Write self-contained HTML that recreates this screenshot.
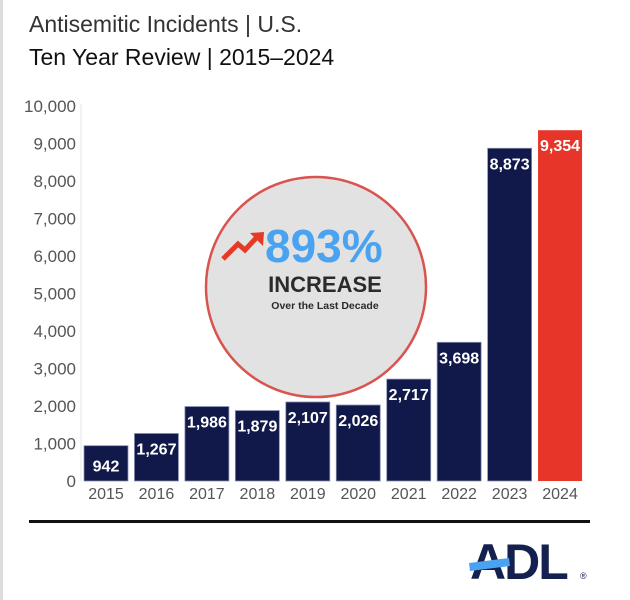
<!DOCTYPE html>
<html><head><meta charset="utf-8"><style>
body{margin:0;width:630px;height:600px;background:#fff;overflow:hidden;position:relative;font-family:"Liberation Sans",sans-serif}
</style></head><body>
<div style="position:absolute;left:0;top:0;width:3px;height:600px;background:#ddd"></div>
<div style="position:absolute;left:29px;top:11px;font-size:23px;color:#333;font-weight:300">Antisemitic Incidents | U.S.</div>
<div style="position:absolute;left:29px;top:44px;font-size:23px;color:#111">Ten Year Review | 2015–2024</div>
<svg id="chart" width="630" height="600" style="position:absolute;left:0;top:0"></svg>
<script>
const years=["2015","2016","2017","2018","2019","2020","2021","2022","2023","2024"];
const incidents=[942,1267,1986,1879,2107,2026,2717,3698,8873,9354];
const labels=["942","1,267","1,986","1,879","2,107","2,026","2,717","3,698","8,873","9,354"];
const ticks=[0,1000,2000,3000,4000,5000,6000,7000,8000,9000,10000];
const tickLabels=["0","1,000","2,000","3,000","4,000","5,000","6,000","7,000","8,000","9,000","10,000"];
const NS="http://www.w3.org/2000/svg",svg=document.getElementById('chart');
const y=v=>481-v*0.0375, x=i=>84+i*50.45, bw=44;
function mk(t,a,p){const e=document.createElementNS(NS,t);for(const k in a)e.setAttribute(k,a[k]);(p||svg).appendChild(e);return e;}
let ax=mk('line',{x1:81,x2:81,y1:104,y2:481,stroke:'#e6e6e6','stroke-width':1});


ticks.forEach((t,i)=>{const e=mk('text',{x:76,y:y(t)+6,'text-anchor':'end','font-size':17,fill:'#555'});e.textContent=tickLabels[i];

});
let c=mk('circle',{cx:316,cy:287,r:110,fill:'#e2e2e2',stroke:'#d9534f','stroke-width':2.5});


let ar=mk('path',{d:'M223 259 L238 244 L245 250 L258 236',stroke:'#e53a25','stroke-width':5,fill:'none'});


let ah=mk('path',{d:'M250 233 L264 232 L263 246 Z',fill:'#e53a25'});


let p=mk('text',{x:265,y:262,'font-size':46,'font-weight':'bold',fill:'#4aa3f0'});p.textContent='893%';


let inc=mk('text',{x:325,y:292,'text-anchor':'middle','font-size':22,'font-weight':'bold',fill:'#2b2b2b'});inc.textContent='INCREASE';


let od=mk('text',{x:325,y:309,'text-anchor':'middle','font-size':10.5,'font-weight':'bold',fill:'#2b2b2b'});od.textContent='Over the Last Decade';


incidents.forEach((v,i)=>{
 const b=mk('rect',{x:x(i),y:y(v),width:bw,height:481-y(v),fill:i==9?'#e8352a':'#10194a',stroke:i==9?'none':'#8a90b0','stroke-width':0.8});
 
 
 const vl=mk('text',{x:x(i)+bw/2,y:y(v)+(i==0?26:21),'text-anchor':'middle','font-size':16,'font-weight':'bold',fill:'#fff'});vl.textContent=labels[i];
 
 
 const yl=mk('text',{x:x(i)+bw/2,y:499,'text-anchor':'middle','font-size':16,fill:'#555'});yl.textContent=years[i];
 
 
});
let rule=mk('rect',{x:29,y:520,width:561,height:3,fill:'#111'});


let lg=mk('text',{x:470,y:579,'font-size':50,'font-weight':'bold',fill:'#14214f','letter-spacing':'-2'});lg.textContent='ADL';


let sl=mk('path',{d:'M469 563 L509 558 L510 566 L470 571 Z',fill:'#4aa3f0'});


let rg=mk('text',{x:580,y:579,'font-size':9,fill:'#14214f'});rg.textContent='®';


</script>
</body></html>
